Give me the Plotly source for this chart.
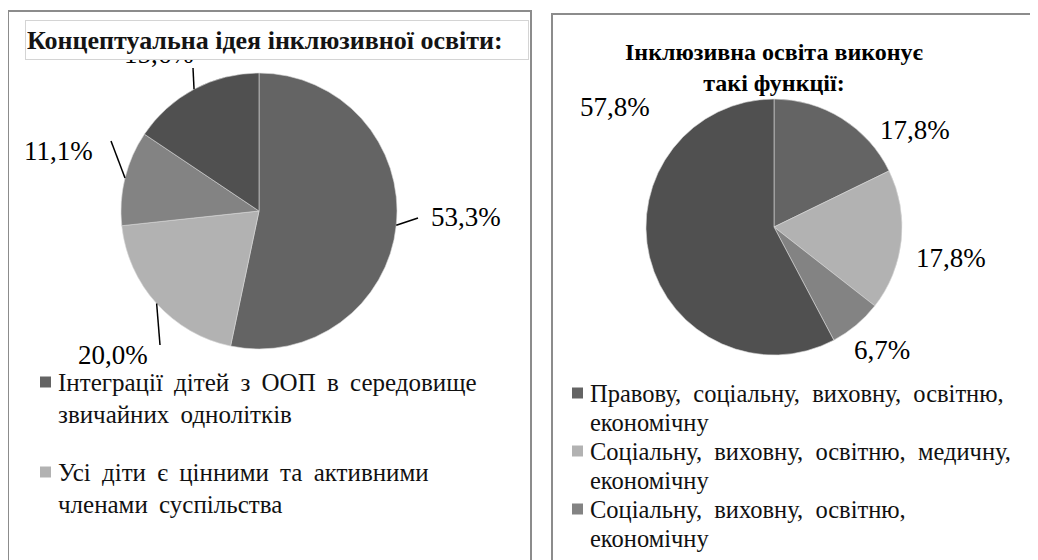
import math
import textwrap
import plotly.graph_objects as go

# ---------------- data ----------------
left_title = "Концептуальна ідея інклюзивної освіти:"
left_labels = [
    "Інтеграції дітей з ООП в середовище звичайних однолітків",
    "Усі діти є цінними та активними членами суспільства",
    "Категорія 3",
    "Категорія 4",
]
left_values = [53.3, 20.0, 11.1, 15.6]
left_legend_count = 2  # entries visible in the picture

right_title = "Інклюзивна освіта виконує<br>такі функції:"
right_labels = [
    "Правову, соціальну, виховну, освітню, економічну",
    "Соціальну, виховну, освітню, медичну, економічну",
    "Соціальну, виховну, освітню, економічну",
    "Категорія 4",
]
right_values = [17.8, 17.8, 6.7, 57.8]
right_legend_count = 3

slice_colors = ["#646464", "#b2b2b2", "#838383", "#505050"]

# ---------------- layout helpers ----------------
W, H = 1038, 560
OFF = 8  # page body margin around the plot div


def X(px):
    return (px - OFF) / W


def Y(py):
    return 1 - (py - OFF) / H


def fmt(v):
    return f"{v:.1f}".replace(".", ",") + "%"


def mid_angles(values):
    tot = sum(values)
    out, acc = [], 0.0
    for v in values:
        out.append((acc + v / 2) / tot * 2 * math.pi)
        acc += v
    return out


FONT = "Liberation Serif"
LBL = 27

fig = go.Figure()

# pies (center, radius in px)
L_C, L_R = (259, 211), 138
R_C, R_R = (774, 227), 128

for vals, labs, (cx, cy), r in [
    (left_values, left_labels, L_C, L_R),
    (right_values, right_labels, R_C, R_R),
]:
    fig.add_trace(
        go.Pie(
            values=vals,
            labels=labs,
            sort=False,
            direction="clockwise",
            rotation=0,
            textinfo="none",
            hoverinfo="label+percent",
            marker=dict(colors=slice_colors, line=dict(color="#d8d8d8", width=0.6)),
            domain=dict(x=[X(cx - r), X(cx + r)], y=[Y(cy + r), Y(cy - r)]),
            showlegend=False,
            automargin=False,
        )
    )

shapes = []
annotations = []

# panel borders
shapes.append(dict(type="rect", xref="paper", yref="paper",
                   x0=X(8), x1=X(531), y0=Y(590), y1=Y(11),
                   line=dict(color="#8c8c8c", width=2), layer="below"))
shapes.append(dict(type="rect", xref="paper", yref="paper",
                   x0=X(552), x1=X(1060), y0=Y(590), y1=Y(14),
                   line=dict(color="#8c8c8c", width=2), layer="below"))

# left pie labels with leader lines
left_label_pos = [(466, 217), (113, 355), (58, 151), (159, 54)]
left_leader_end = [(418, 218), (160, 345), (111, 141), (193, 68)]
for ang, v, (lx, ly), (ex, ey) in zip(mid_angles(left_values), left_values,
                                      left_label_pos, left_leader_end):
    sx = L_C[0] + L_R * math.sin(ang)
    sy = L_C[1] - L_R * math.cos(ang)
    shapes.append(dict(type="line", xref="paper", yref="paper",
                       x0=X(sx), y0=Y(sy), x1=X(ex), y1=Y(ey),
                       line=dict(color="#000000", width=1.5)))
    annotations.append(dict(xref="paper", yref="paper", x=X(lx), y=Y(ly),
                            text=fmt(v), showarrow=False,
                            xanchor="center", yanchor="middle",
                            font=dict(family=FONT, size=LBL, color="#000")))

# left title box (drawn over the top label, as in the original)
annotations.append(dict(xref="paper", yref="paper", x=X(25), y=Y(40),
                        text="<b>" + left_title + "</b>", showarrow=False,
                        xanchor="left", yanchor="middle", align="left",
                        width=500, height=36,
                        bgcolor="#ffffff", bordercolor="#d4d4d4", borderwidth=1,
                        font=dict(family=FONT, size=26, color="#141414")))

# right pie labels
right_label_pos = [(915, 130), (951, 258), (882, 350), (615, 107)]
for v, (lx, ly) in zip(right_values, right_label_pos):
    annotations.append(dict(xref="paper", yref="paper", x=X(lx), y=Y(ly),
                            text=fmt(v), showarrow=False,
                            xanchor="center", yanchor="middle",
                            font=dict(family=FONT, size=LBL, color="#000")))

# right title
annotations.append(dict(xref="paper", yref="paper", x=X(774), y=Y(68),
                        text="<b>" + right_title + "</b>", showarrow=False,
                        xanchor="center", yanchor="middle", align="center",
                        font=dict(family=FONT, size=24, color="#000")))


def add_legend(labels, count, sq_x, txt_x, y_first, wrap, size, pitch, entry_gap, space):
    y = y_first
    for i in range(count):
        lines = textwrap.wrap(labels[i], wrap)
        shapes.append(dict(type="rect", xref="paper", yref="paper",
                           x0=X(sq_x), x1=X(sq_x + 11), y0=Y(y + 5.5), y1=Y(y - 5.5),
                           fillcolor=slice_colors[i], line=dict(width=0)))
        for ln in lines:
            annotations.append(dict(xref="paper", yref="paper", x=X(txt_x), y=Y(y),
                                    text=ln.replace(" ", space), showarrow=False,
                                    xanchor="left", yanchor="middle", align="left",
                                    font=dict(family=FONT, size=size, color="#111")))
            y += pitch
        y += entry_gap


add_legend(left_labels, left_legend_count, 40, 56, 382, 35, 25, 32, 26, " \u2009")
add_legend(right_labels, right_legend_count, 572, 588, 393, 37, 24.5, 29, 0, " \u00a0")

fig.update_layout(
    width=W, height=H,
    margin=dict(l=0, r=0, t=0, b=0),
    paper_bgcolor="#ffffff",
    plot_bgcolor="#ffffff",
    shapes=shapes,
    annotations=annotations,
    showlegend=False,
)

fig.write_html("out.html")
